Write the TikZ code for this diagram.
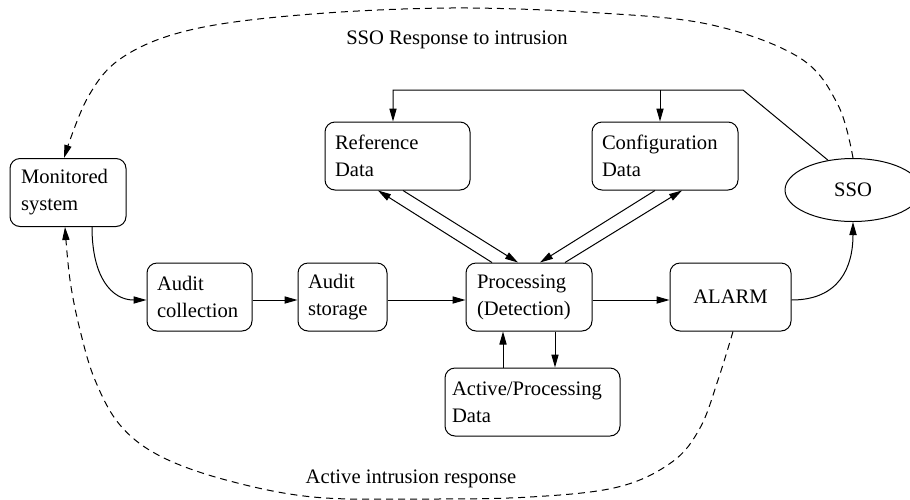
\documentclass[tikz,border=0pt]{standalone}
\usepackage{fontspec}
\setmainfont{Liberation Serif}
\usetikzlibrary{arrows.meta,calc,shapes.geometric}
\tikzset{
  txt/.style={font=\fontsize{10.3pt}{13.5pt}\selectfont},
  box/.style={txt, draw, rounded corners=5pt, minimum height=34pt, inner ysep=0pt, inner xsep=5pt, align=left},
  arr/.style={-{Triangle[length=6.5pt,width=3.6pt]}},
  dsh/.style={dash pattern=on 3.5pt off 2.5pt},
}
\begin{document}
\begin{tikzpicture}[x=0.5pt,y=-0.5pt,line width=0.5pt]
\path[fill=white,use as bounding box] (0,0) rectangle (910,499);

% nodes
\node[box, inner xsep=5.5pt, text width=47pt] (mon) at (68,192.5) {Monitored\\system};
\node[box, text width=42.5pt] (acol) at (199.5,297) {Audit\\collection};
\node[box, text width=34.5pt] (asto) at (342.5,297) {Audit\\storage};
\node[box, text width=62.5pt] (ref) at (397.5,156) {Reference\\Data};
\node[box, text width=63pt] (conf) at (665,156) {Configuration\\Data};
\node[box, inner xsep=5.5pt, text width=52pt] (proc) at (529,297) {Processing\\(Detection)};
\node[box, align=center, minimum width=60.5pt] (alarm) at (730.5,297) {ALARM};
\node[box, inner xsep=3.5pt, text width=80.5pt] (apd) at (532.5,402) {Active/Processing\\Data};
\node[txt, draw, ellipse, minimum width=68pt, minimum height=31.5pt, inner sep=0pt] (sso) at (853,190) {SSO};

\node[txt, anchor=base] (lab1) at (457,44) {SSO Response to intrusion};
\node[txt, anchor=base] (lab2) at (411,483) {Active intrusion response};

% main flow
\draw[arr] ($(mon.south)+(24,0)$) .. controls +(0,50) and +(-35,0) .. ($(acol.west)+(0,3)$);
\draw[arr] ($(acol.east)+(0,3)$) -- ($(asto.west)+(0,3)$);
\draw[arr] ($(asto.east)+(0,3)$) -- ($(proc.west)+(0,3)$);
\draw[arr] ($(proc.east)+(0,3)$) -- ($(alarm.west)+(0,3)$);
\draw[arr] ($(alarm.east)+(0,3)$) .. controls +(48,0) and +(0,45) .. (sso.south);

% processing <-> active data
\coordinate (u1) at ($(apd.north)+(-29.5,0)$);
\draw[arr] (u1) -- (u1 |- proc.south);
\coordinate (d1) at ($(proc.south)+(26,0)$);
\draw[arr] (d1) -- (d1 |- apd.north);

% reference / configuration <-> processing
\draw[arr] ($(proc.north)+(-37,0)$) -- ($(ref.south)+(-19.5,0)$);
\draw[arr] ($(ref.south)+(5.5,0)$) -- ($(proc.north)+(-11,0)$);
\draw[arr] ($(conf.south)+(-10,0)$) -- ($(proc.north)+(11,0)$);
\draw[arr] ($(proc.north)+(36,0)$) -- ($(conf.south)+(17,0)$);

% SSO feedback to data stores
\coordinate (t1) at (743,90);
\coordinate (tR) at (393,90);
\coordinate (tC) at (660,90);
\draw[arr] (sso.130) -- (t1) -- (tR) -- (tR |- ref.north);
\draw[arr] (tC) -- (tC |- conf.north);

% dashed responses
\draw[dsh, arr] plot[smooth, tension=0.6] coordinates {(sso.north) (838,105) (800,58) (712,25) (600,13) (450,8) (300,15) (190,30) (123,57) (88,97) ($(mon.north)+(-4,0)$)};
\draw[dsh, arr] plot[smooth, tension=0.6] coordinates {($(alarm.south)+(2.5,0)$) (718,380) (700,428) (672,462) (618,487) (530,497) (420,499) (313,497) (226,480) (160,456) (120,425) (95,380) (80,330) (70,280) ($(mon.south)+(-3,0)$)};
\end{tikzpicture}
\end{document}
